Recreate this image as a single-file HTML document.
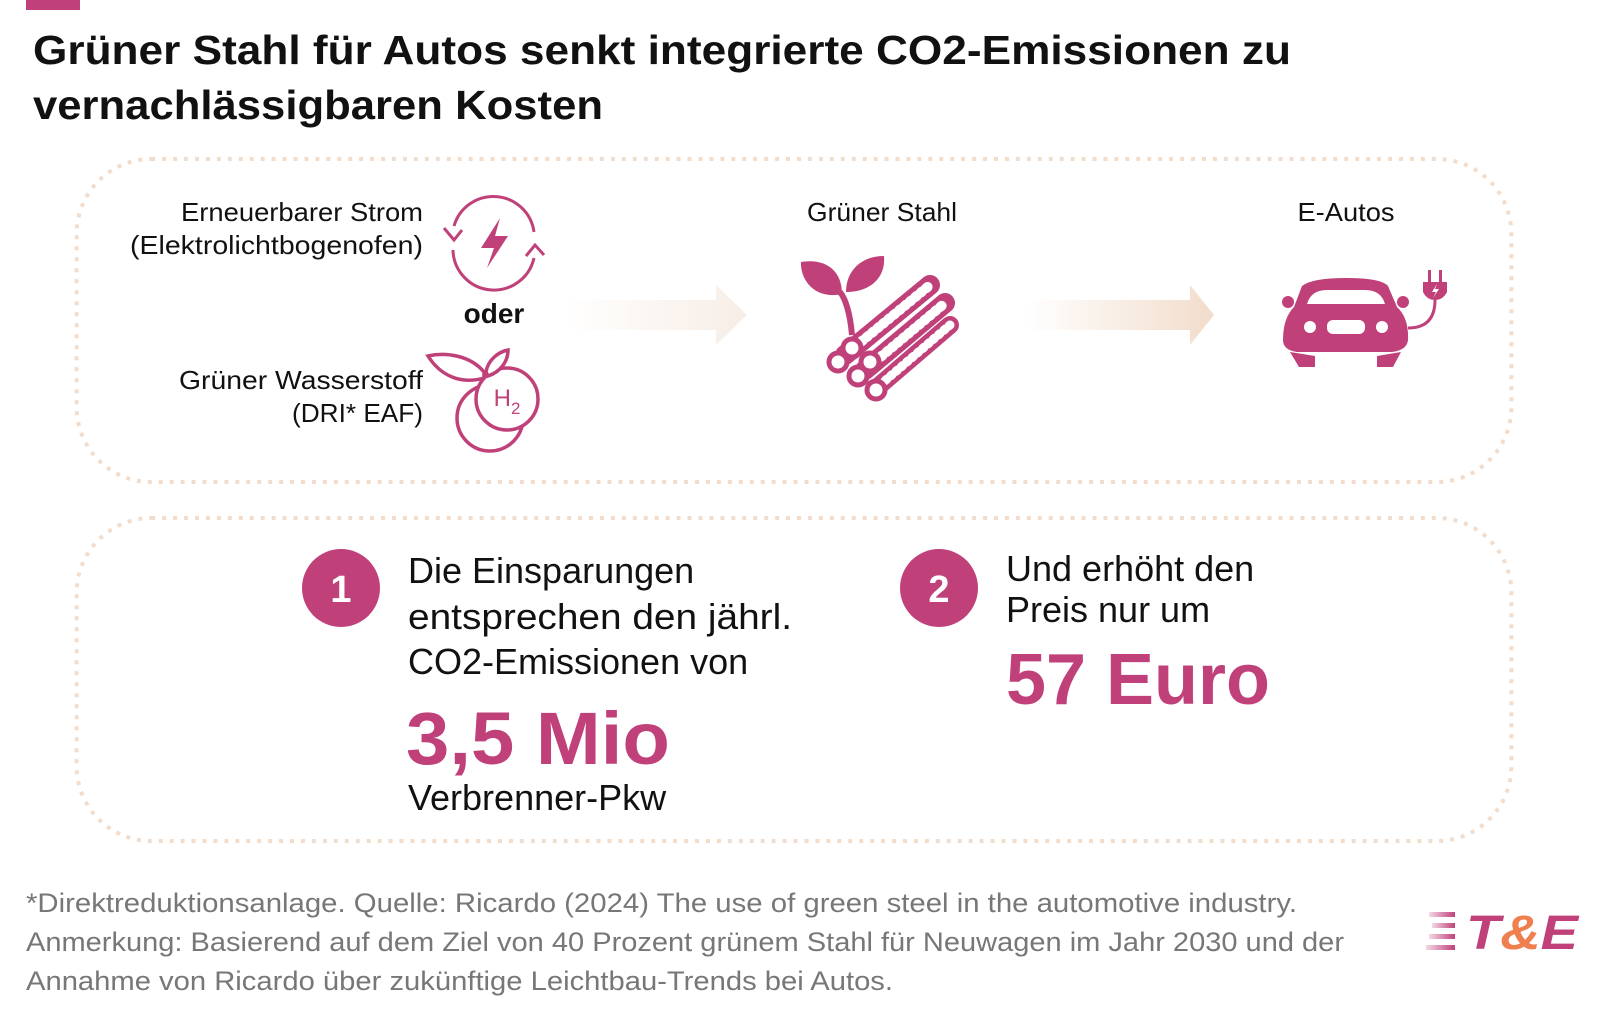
<!DOCTYPE html>
<html><head><meta charset="utf-8"><style>
html,body{margin:0;padding:0;background:#fff}
svg{display:block}
text{font-family:"Liberation Sans",sans-serif}
</style></head><body>
<svg width="1600" height="1017" viewBox="0 0 1600 1017" xmlns="http://www.w3.org/2000/svg">
<defs>
<linearGradient id="ag" x1="0" x2="1" y1="0" y2="0"><stop offset="0" stop-color="#f2dccb" stop-opacity="0"/><stop offset="1" stop-color="#f2dccb"/></linearGradient>
<linearGradient id="ag1" x1="0" x2="1" y1="0" y2="0"><stop offset="0" stop-color="#f7ece4" stop-opacity="0"/><stop offset="1" stop-color="#f7ede6"/></linearGradient>
<linearGradient id="lg" x1="0" x2="1"><stop offset="0" stop-color="#c0417a" stop-opacity="0.2"/><stop offset="1" stop-color="#c0417a"/></linearGradient>
</defs>
<rect x="26" y="0" width="54" height="10" fill="#c0417a"/>
<g font-weight="bold" font-size="41" fill="#111">
<text x="33" y="64" textLength="1258" lengthAdjust="spacingAndGlyphs">Grüner Stahl für Autos senkt integrierte CO2-Emissionen zu</text>
<text x="33" y="119" textLength="570" lengthAdjust="spacingAndGlyphs">vernachlässigbaren Kosten</text>
</g>
<rect x="77" y="159" width="1442" height="323" rx="75" fill="none" stroke="#f2dccb" stroke-width="4" stroke-dasharray="4 7" transform="scale(0.995 1)"/>
<rect x="77" y="518" width="1442" height="323" rx="75" fill="none" stroke="#f2dccb" stroke-width="4" stroke-dasharray="4 7" transform="scale(0.995 1)"/>
<g font-size="26" fill="#111" text-anchor="end">
<text x="423" y="221" textLength="242" lengthAdjust="spacingAndGlyphs">Erneuerbarer Strom</text>
<text x="423" y="254" textLength="293" lengthAdjust="spacingAndGlyphs">(Elektrolichtbogenofen)</text>
<text x="423" y="389" textLength="244" lengthAdjust="spacingAndGlyphs">Grüner Wasserstoff</text>
<text x="423" y="422" textLength="131" lengthAdjust="spacingAndGlyphs">(DRI* EAF)</text>
</g>
<text x="494" y="323" font-size="28" font-weight="bold" text-anchor="middle" fill="#111">oder</text>
<g stroke="#c0417a" stroke-width="3" fill="none">
<path d="M454 226 A41 41 0 0 1 534 232"/>
<path d="M534 258 A41 41 0 0 1 453 250"/>
<path d="M444 228 L454 240 L462 230"/><path d="M526 256 L535 245 L544 255"/>
<path d="M500 218 L481 248 L494 248 L487 268 L508 236 L495 236 Z" fill="#c0417a" stroke="none"/>
</g>
<g stroke="#c0417a" stroke-width="3.5" fill="none">
<circle cx="490" cy="418" r="33"/>
<circle cx="507" cy="399" r="31" fill="#fff"/>
<path d="M484 372 C470 355 445 352 428 356 C440 375 460 385 484 378 Z" fill="#fff"/>
<path d="M486 372 C488 360 498 352 508 350 C508 362 500 372 488 376Z" fill="#fff"/>
<text x="507" y="406" font-size="24" fill="#c0417a" stroke="none" text-anchor="middle">H<tspan font-size="17" dy="8">2</tspan></text>
</g>
<g><path d="M567 300 H716 V285 L747 315 L716 345 V330 H567 Z" fill="url(#ag1)"/></g>
<g><path d="M1027 300 H1190 V285 L1214 315 L1190 345 V330 H1027 Z" fill="url(#ag)"/></g>
<g font-size="26" fill="#111" text-anchor="middle">
<text x="882" y="221" textLength="150" lengthAdjust="spacingAndGlyphs">Grüner Stahl</text>
<text x="1346" y="221" textLength="97" lengthAdjust="spacingAndGlyphs">E-Autos</text>
</g>
<g fill="#c0417a">
<path d="M852 335 C850 312 845 298 840 292" stroke="#c0417a" stroke-width="6" fill="none"/>
<path d="M842 294 C815 300 800 280 801 262 C825 258 842 270 842 294Z"/>
<path d="M846 292 C846 270 862 256 884 256 C886 278 870 292 846 292Z"/>
<g stroke-linecap="round" fill="none">
<path d="M845 355 L930 285" stroke="#c0417a" stroke-width="20"/>
<path d="M865 370 L945 303" stroke="#c0417a" stroke-width="20"/>
<path d="M845 355 L930 285" stroke="#fff" stroke-width="10" stroke-dasharray="2 5"/>
<path d="M865 370 L945 303" stroke="#fff" stroke-width="10" stroke-dasharray="2 5"/>
<path d="M880 385 L950 325" stroke="#c0417a" stroke-width="18"/>
<path d="M880 385 L950 325" stroke="#fff" stroke-width="9" stroke-dasharray="2 5"/>
</g>
<g stroke="#c0417a" stroke-width="5" fill="#fff">
<circle cx="838" cy="362" r="9"/><circle cx="858" cy="376" r="9"/><circle cx="876" cy="390" r="9"/><circle cx="852" cy="348" r="9"/><circle cx="870" cy="362" r="9"/>
</g>
</g>
<g>
<path d="M1302 286 Q1312 278 1346 278 Q1381 278 1388 286 L1397 307 Q1409 318 1408 340 Q1407 350 1392 352 L1297 352 Q1283 350 1283 340 Q1283 318 1294 307 Z" fill="#c0417a"/>
<path d="M1307 304 Q1311 290 1327 290 L1365 290 Q1381 290 1385 304 Z" fill="#fff"/>
<circle cx="1288" cy="302" r="6" fill="#c0417a"/><circle cx="1403" cy="302" r="6" fill="#c0417a"/>
<circle cx="1310" cy="327" r="6" fill="#fff"/><circle cx="1382" cy="327" r="6" fill="#fff"/>
<rect x="1327" y="320" width="38" height="14" rx="6" fill="#fff"/>
<path d="M1290 352 L1315 356 L1315 367 L1299 367Z M1401 352 L1377 356 L1377 367 L1393 367Z" fill="#c0417a"/>
<path d="M1408 328 Q1435 328 1435 300" stroke="#c0417a" stroke-width="3" fill="none"/>
<path d="M1423 282 H1447 V292 Q1443 300 1435 300 Q1427 300 1423 292Z" fill="#c0417a"/>
<rect x="1428" y="270" width="3" height="12" fill="#c0417a"/><rect x="1439" y="270" width="3" height="12" fill="#c0417a"/>
<path d="M1437 284 L1432 292 L1436 292 L1433 298 L1439 289 L1435 289Z" fill="#fff"/>
</g>
<g>
<circle cx="341" cy="588" r="39" fill="#c0417a"/>
<text x="341" y="602" font-size="38" font-weight="bold" fill="#fff" text-anchor="middle">1</text>
<g font-size="36" fill="#111"><text x="408" y="583">Die Einsparungen</text><text x="408" y="629" textLength="384" lengthAdjust="spacingAndGlyphs">entsprechen den jährl.</text><text x="408" y="674">CO2-Emissionen von</text></g>
<text x="406" y="764" font-size="74" font-weight="bold" fill="#c0417a" textLength="264" lengthAdjust="spacingAndGlyphs">3,5 Mio</text>
<text x="408" y="810" font-size="36" fill="#111">Verbrenner-Pkw</text>
</g>
<g>
<circle cx="939" cy="588" r="39" fill="#c0417a"/>
<text x="939" y="602" font-size="38" font-weight="bold" fill="#fff" text-anchor="middle">2</text>
<g font-size="36" fill="#111"><text x="1006" y="581">Und erhöht den</text><text x="1006" y="622">Preis nur um</text></g>
<text x="1006" y="704" font-size="72" font-weight="bold" fill="#c0417a" textLength="264" lengthAdjust="spacingAndGlyphs">57 Euro</text>
</g>
<g font-size="27" fill="#777">
<text x="26" y="912" textLength="1271" lengthAdjust="spacingAndGlyphs">*Direktreduktionsanlage. Quelle: Ricardo (2024) The use of green steel in the automotive industry.</text>
<text x="26" y="951" textLength="1318" lengthAdjust="spacingAndGlyphs">Anmerkung: Basierend auf dem Ziel von 40 Prozent grünem Stahl für Neuwagen im Jahr 2030 und der</text>
<text x="26" y="990" textLength="867" lengthAdjust="spacingAndGlyphs">Annahme von Ricardo über zukünftige Leichtbau-Trends bei Autos.</text>
</g>
<g>
<rect x="1429" y="912" width="26" height="5" fill="url(#lg)"/><rect x="1432" y="923" width="23" height="5" fill="url(#lg)"/><rect x="1429" y="934" width="26" height="5" fill="url(#lg)"/><rect x="1426" y="945" width="29" height="5" fill="url(#lg)"/>
<text x="1466" y="949" font-size="48" font-weight="bold" font-style="italic" fill="#c0417a" textLength="112" lengthAdjust="spacingAndGlyphs">T<tspan fill="#f07f4f">&amp;</tspan>E</text>
</g>
</svg>
</body></html>
